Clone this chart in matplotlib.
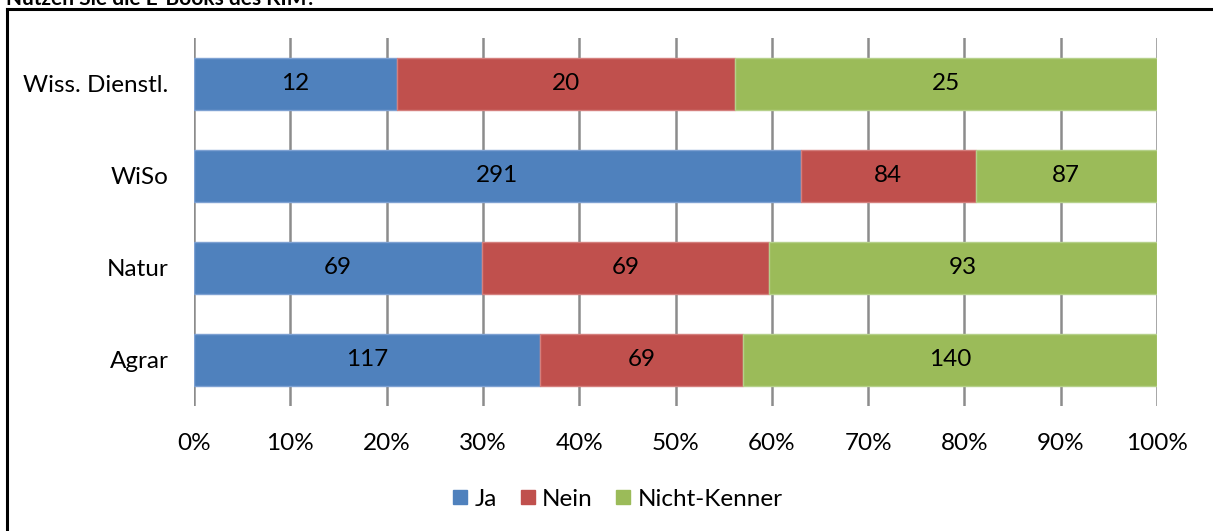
import matplotlib.pyplot as plt
from matplotlib.lines import Line2D
import numpy as np

categories = ["Wiss. Dienstl.", "WiSo", "Natur", "Agrar"]
ja = [12, 291, 69, 117]
nein = [20, 84, 69, 69]
nicht_kenner = [25, 87, 93, 140]
series_names = ["Ja", "Nein", "Nicht-Kenner"]
colors = ["#4F81BD", "#C0504D", "#9BBB59"]
edge_colors = ["#7EA1D2", "#D47F7D", "#B5D08A"]
tick_labels = ["0%", "10%", "20%", "30%", "40%", "50%", "60%", "70%", "80%", "90%", "100%"]

plt.rcParams['font.family'] = ['Lato', 'DejaVu Sans']
FS = 17.5

W, H = 1213, 531
fig = plt.figure(figsize=(W / 100, H / 100), dpi=100)
ax = fig.add_axes([194 / W, 1 - 406 / H, (1157 - 194) / W, (406 - 38) / H])

counts = np.array([ja, nein, nicht_kenner], dtype=float)
shares = counts / counts.sum(axis=0)
y = np.arange(len(categories))

left = np.zeros(len(categories))
for i, name in enumerate(series_names):
    bars = ax.barh(y, shares[i], left=left, height=0.57, color=colors[i],
                   edgecolor=edge_colors[i], linewidth=1, label=name, zorder=3)
    for j, b in enumerate(bars):
        ax.text(left[j] + shares[i][j] / 2, y[j], str(int(counts[i][j])),
                ha="center", va="center", fontsize=FS, color="black", zorder=4)
    left += shares[i]

ax.set_ylim(len(categories) - 0.5, -0.5)
ax.set_xlim(0, 1)
for x in np.linspace(0, 1, 11):
    ax.axvline(x, color="#8C8C8C", linewidth=1.8, zorder=1)

for s in ax.spines.values():
    s.set_visible(False)
ax.tick_params(left=False, bottom=False)
ax.set_yticks(y)
ax.set_yticklabels(categories, fontsize=FS)
ax.tick_params(axis="y", pad=15)
ax.set_xticks(np.linspace(0, 1, 11))
ax.set_xticklabels(tick_labels, fontsize=FS)
ax.tick_params(axis="x", pad=16)

handles = [Line2D([], [], marker="s", linestyle="none", markersize=10.5,
                  markerfacecolor=c, markeredgecolor=c) for c in colors]
fig.legend(handles, series_names, loc="center", bbox_to_anchor=(615.5 / W, 1 - 499 / H),
           ncol=3, frameon=False, fontsize=FS, handletextpad=0.1,
           columnspacing=0.75, handlelength=1.0)

# chart frame, partly outside the image
fig.add_artist(Line2D([6.5 / W, 6.5 / W], [0, 1 - 9 / H], transform=fig.transFigure,
                      color="black", linewidth=2.2))
fig.add_artist(Line2D([6.5 / W, 1], [1 - 9 / H, 1 - 9 / H], transform=fig.transFigure,
                      color="black", linewidth=2.2))

fig.text(6 / W, 1 - 5 / H, "Nutzen Sie die E-Books des KIM?", fontsize=15,
         fontweight="bold", ha="left", va="baseline")

fig.savefig("out.png", dpi=100)
